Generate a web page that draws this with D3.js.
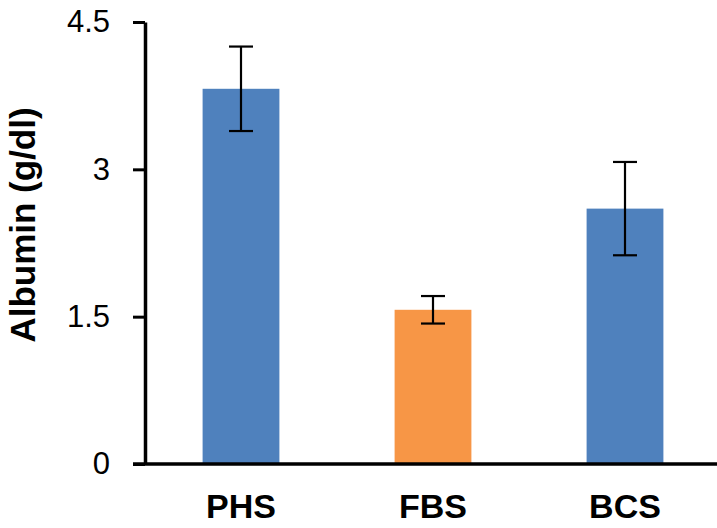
<!DOCTYPE html>
<html>
<head>
<meta charset="utf-8">
<script src="https://cdn.jsdelivr.net/npm/d3@7"></script>
<style>
  body { margin: 0; background: #fff; }
  text { font-family: "Liberation Sans", Arial, sans-serif; fill: #000; }
</style>
</head>
<body>
<div id="chart"></div>
<script>
var categories = ["PHS", "FBS", "BCS"];
var means = [3.82, 1.57, 2.60];
var errors = [0.43, 0.14, 0.475];
var barColors = ["#4f81bd", "#f79646", "#4f81bd"];
var yTicks = [0, 1.5, 3, 4.5];

var svgWidth = 717;
var svgHeight = 528;

var margin = { top: 22, right: 0, bottom: 64, left: 145 };
var height = svgHeight - margin.top - margin.bottom;

var svg = d3.select("#chart")
  .append("svg")
  .attr("width", svgWidth)
  .attr("height", svgHeight);

var x = d3.scaleBand()
  .domain(categories)
  .range([margin.left, 721])
  .paddingInner(0.6)
  .paddingOuter(0.3);

var y = d3.scaleLinear()
  .domain([0, 4.5])
  .range([margin.top + height, margin.top]);

// bars
svg.selectAll("rect.bar")
  .data(categories)
  .enter()
  .append("rect")
  .attr("class", "bar")
  .attr("x", d => x(d))
  .attr("y", (d, i) => y(means[i]))
  .attr("width", x.bandwidth())
  .attr("height", (d, i) => y(0) - y(means[i]))
  .attr("fill", (d, i) => barColors[i]);

// error bars
var capHalf = 12;
var err = svg.selectAll("g.err")
  .data(categories)
  .enter()
  .append("g")
  .attr("class", "err")
  .attr("stroke", "#000")
  .attr("stroke-width", 2.2);

err.append("line")
  .attr("x1", d => x(d) + x.bandwidth() / 2)
  .attr("x2", d => x(d) + x.bandwidth() / 2)
  .attr("y1", (d, i) => y(means[i] + errors[i]))
  .attr("y2", (d, i) => y(means[i] - errors[i]));

err.append("line")
  .attr("x1", d => x(d) + x.bandwidth() / 2 - capHalf)
  .attr("x2", d => x(d) + x.bandwidth() / 2 + capHalf)
  .attr("y1", (d, i) => y(means[i] + errors[i]))
  .attr("y2", (d, i) => y(means[i] + errors[i]));

err.append("line")
  .attr("x1", d => x(d) + x.bandwidth() / 2 - capHalf)
  .attr("x2", d => x(d) + x.bandwidth() / 2 + capHalf)
  .attr("y1", (d, i) => y(means[i] - errors[i]))
  .attr("y2", (d, i) => y(means[i] - errors[i]));

// y axis
var yAxis = svg.append("g")
  .attr("transform", `translate(${margin.left}, 0)`)
  .call(d3.axisLeft(y)
    .tickValues(yTicks)
    .tickFormat(d => String(d))
    .tickSize(12)
    .tickPadding(23)
    .tickSizeOuter(0));

yAxis.select(".domain").attr("stroke-width", 3.5);
yAxis.selectAll(".tick line").attr("stroke-width", 3);
yAxis.selectAll(".tick text")
  .style("font-size", "31px")
  .attr("fill", "#000");

// x axis line
svg.append("line")
  .attr("x1", margin.left - 12)
  .attr("x2", svgWidth)
  .attr("y1", y(0))
  .attr("y2", y(0))
  .attr("stroke", "#000")
  .attr("stroke-width", 3.5);

// category labels
svg.selectAll("text.cat")
  .data(categories)
  .enter()
  .append("text")
  .attr("class", "cat")
  .attr("x", d => x(d) + x.bandwidth() / 2)
  .attr("y", 518)
  .attr("text-anchor", "middle")
  .style("font-size", "34px")
  .style("font-weight", "bold")
  .text(d => d);

// y axis title
svg.append("text")
  .attr("transform", "rotate(-90)")
  .attr("x", -225)
  .attr("y", 35)
  .attr("text-anchor", "middle")
  .style("font-size", "35px")
  .style("font-weight", "bold")
  .text("Albumin (g/dl)");
</script>
</body>
</html>
